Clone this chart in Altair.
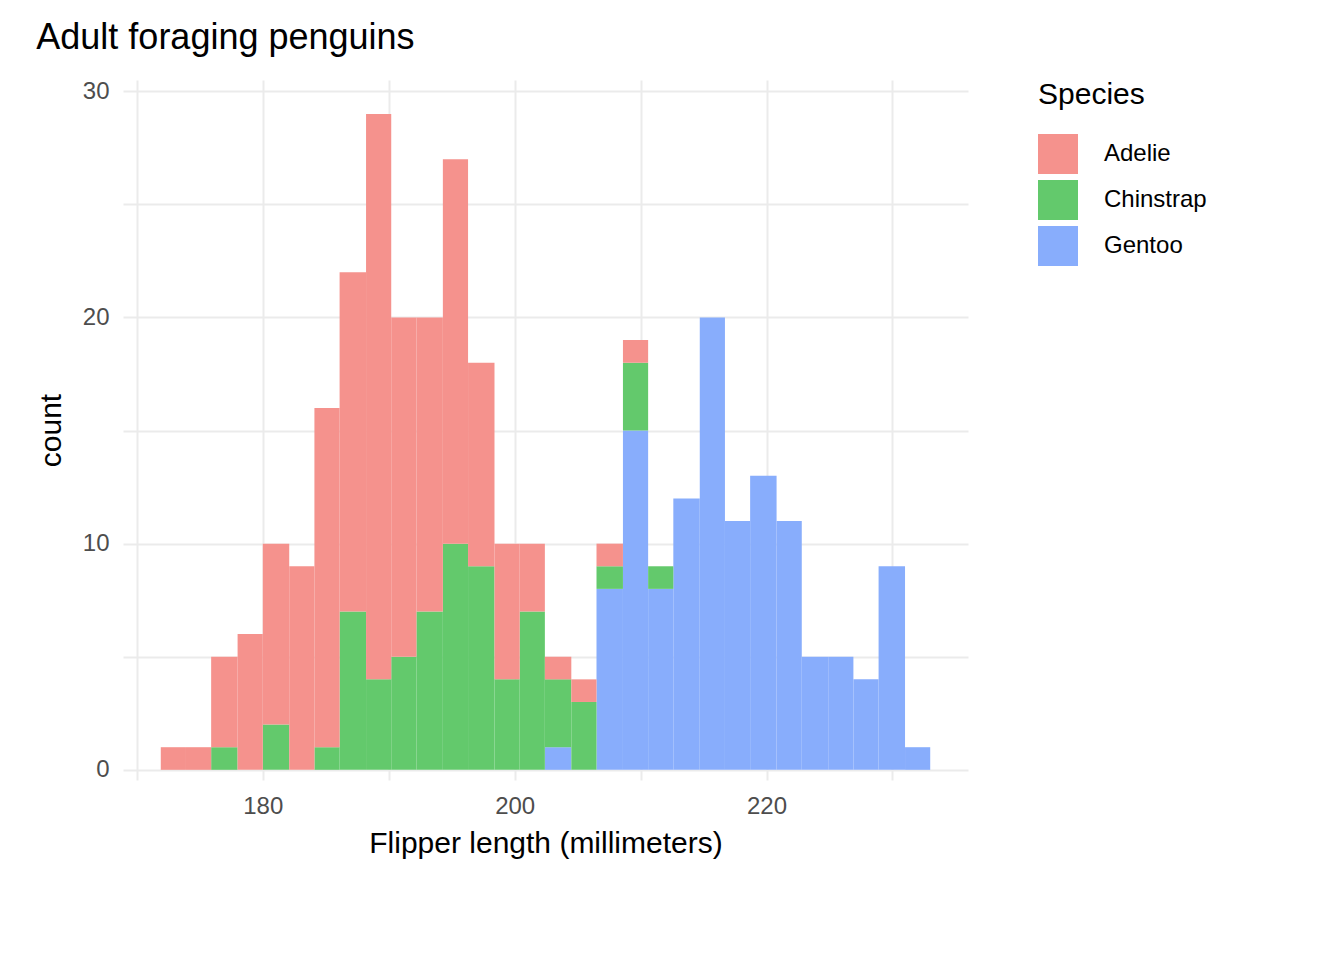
import altair as alt
import pandas as pd

bin_start = [171.9, 173.9, 175.9, 178.0, 180.0, 182.1, 184.1, 186.1, 188.2, 190.2,
             192.2, 194.3, 196.3, 198.4, 200.4, 202.4, 204.5, 206.5, 208.6, 210.6,
             212.6, 214.7, 216.7, 218.7, 220.8, 222.8, 224.9, 226.9, 228.9, 231.0]
bin_end = bin_start[1:] + [233.0]
adelie = [1, 1, 4, 6, 8, 9, 15, 15, 25, 15, 13, 17, 9, 6, 3, 1, 1, 1, 1, 0,
          0, 0, 0, 0, 0, 0, 0, 0, 0, 0]
chinstrap = [0, 0, 1, 0, 2, 0, 1, 7, 4, 5, 7, 10, 9, 4, 7, 3, 3, 1, 3, 1,
             0, 0, 0, 0, 0, 0, 0, 0, 0, 0]
gentoo = [0, 0, 0, 0, 0, 0, 0, 0, 0, 0, 0, 0, 0, 0, 0, 1, 0, 8, 15, 8,
          12, 20, 11, 13, 11, 5, 5, 4, 9, 1]
species = ["Adelie", "Chinstrap", "Gentoo"]
colors = ["#F5928D", "#63C96C", "#88ADFC"]

# stack Gentoo at the bottom, then Chinstrap, then Adelie on top
rows = []
base = [0] * len(bin_start)
for name, counts in [("Gentoo", gentoo), ("Chinstrap", chinstrap), ("Adelie", adelie)]:
    for i, (s, e, c) in enumerate(zip(bin_start, bin_end, counts)):
        if c > 0:
            rows.append({"start": s, "end": e, "y0": base[i], "y1": base[i] + c, "Species": name})
        base[i] += c
df = pd.DataFrame(rows)

grid_x = [170, 180, 190, 200, 210, 220, 230]
grid_y = [0, 5, 10, 15, 20, 25, 30]

chart = alt.Chart(df, title=alt.Title("Adult foraging penguins", anchor="start", fontSize=36,
                                      fontWeight="normal", color="black", offset=22)).mark_rect(
    strokeWidth=0).encode(
    x=alt.X("start:Q", scale=alt.Scale(domain=[168.9, 236.0], nice=False, zero=False),
            axis=alt.Axis(values=grid_x, labelExpr="datum.value % 20 == 0 ? datum.label : ''",
                          title="Flipper length (millimeters)", gridColor="#EBEBEB", gridWidth=2,
                          domain=False, ticks=False, labelFontSize=24, titleFontSize=30,
                          labelColor="#4D4D4D", titleColor="black", titleFontWeight="normal",
                          labelPadding=14, titlePadding=10)),
    x2="end:Q",
    y=alt.Y("y0:Q", scale=alt.Scale(domain=[-0.45, 30.5], nice=False),
            axis=alt.Axis(values=grid_y, labelExpr="datum.value % 10 == 0 ? datum.label : ''",
                          title="count", gridColor="#EBEBEB", gridWidth=2, domain=False, ticks=False,
                          labelFontSize=24, titleFontSize=30, labelColor="#4D4D4D",
                          titleColor="black", titleFontWeight="normal", labelPadding=14,
                          titlePadding=16)),
    y2="y1:Q",
    color=alt.Color("Species:N", scale=alt.Scale(domain=species, range=colors),
                    legend=alt.Legend(title="Species", titleFontSize=30, titleFontWeight="normal",
                                      labelFontSize=24, symbolType="square", symbolSize=1600,
                                      symbolOpacity=1, symbolStrokeWidth=0, titleColor="black",
                                      labelColor="black", rowPadding=6, titlePadding=24, offset=70,
                                      labelOffset=26, padding=0)),
).properties(width=845, height=700, padding={"left": 28, "top": 12, "right": 5, "bottom": 5}
).configure(font="Liberation Sans").configure_view(stroke=None)

chart.save("out.html", embed_options={"renderer": "svg", "actions": False})
